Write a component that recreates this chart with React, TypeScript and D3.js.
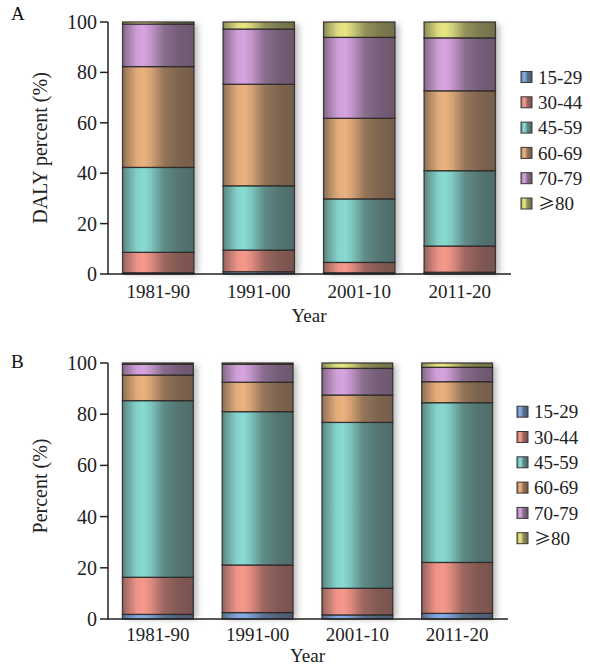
import React from "react";
import * as d3 from "d3";

const years = ["1981-90", "1991-00", "2001-10", "2011-20"];
const ageGroups = ["15-29", "30-44", "45-59", "60-69", "70-79", "≥80"];
const yTicks = [0, 20, 40, 60, 80, 100];

// Panel A: DALY percent
const a15_29 = [0.5, 0.9, 0.5, 0.7];
const a30_44 = [8.1, 8.6, 4.1, 10.4];
const a45_59 = [33.7, 25.5, 25.2, 29.9];
const a60_69 = [40.0, 40.3, 32.0, 31.7];
const a70_79 = [16.9, 21.9, 32.1, 21.0];
const a80 = [0.8, 2.8, 6.1, 6.3];

// Panel B: Percent
const b15_29 = [1.8, 2.5, 1.6, 2.2];
const b30_44 = [14.5, 18.6, 10.4, 19.9];
const b45_59 = [69.0, 59.9, 64.8, 62.4];
const b60_69 = [10.0, 11.5, 10.7, 8.2];
const b70_79 = [4.2, 7.0, 10.4, 5.6];
const b80 = [0.5, 0.5, 2.1, 1.7];

const colors = ["#84ace6", "#f7988c", "#88dbd2", "#ebb27f", "#d6a4e0", "#e6e683"];
const FONT = "'Liberation Serif', 'Times New Roman', serif";
const CJK = "'Noto Sans CJK SC', 'Noto Sans CJK JP', sans-serif";

const profile: [number, number][] = [
  [0, 0.5],
  [0.06, 0.35],
  [0.2, 0.05],
  [0.3, 0.0],
  [0.4, 0.12],
  [0.58, 0.45],
  [0.8, 0.58],
  [1, 0.62],
];

function buildRows(series: number[][]) {
  return years.map((y, i) => {
    const row: any = { year: y };
    ageGroups.forEach((g, k) => (row[g] = series[k][i]));
    return row;
  });
}

function Gradients() {
  return (
    <defs>
      {colors.map((c, k) => (
        <linearGradient key={k} id={`g${k}`} x1="0" x2="1" y1="0" y2="0">
          {profile.map(([o, t], j) => (
            <stop key={j} offset={o} stopColor={d3.interpolateRgb(c, "#2c2a2a")(t)} />
          ))}
        </linearGradient>
      ))}
      <filter id="blur" x="-50%" y="-10%" width="200%" height="120%">
        <feGaussianBlur stdDeviation="3" />
      </filter>
    </defs>
  );
}

function LegendLabel({ g }: { g: string }) {
  if (g.startsWith("≥")) {
    return (
      <>
        <tspan fontFamily={CJK} fontSize={17}>≥</tspan>
        <tspan>{g.slice(1)}</tspan>
      </>
    );
  }
  return <>{g}</>;
}

type PanelProps = {
  letter: string;
  yTitle: string;
  series: number[][];
  top: number;
  bottom: number;
  xEnd: number;
  yTitleY: number;
  legendX: number;
  legendY0: number;
  letterY: number;
  tickLabelOffset: number;
  yearOffset: number;
};

function Panel(p: PanelProps) {
  const rows = buildRows(p.series);
  const stack = d3.stack<any>().keys(ageGroups)(rows);
  const x = d3
    .scaleBand<string>()
    .domain(years)
    .range([108, p.xEnd])
    .paddingInner(0.29)
    .paddingOuter(0.145);
  const y = d3.scaleLinear().domain([0, 100]).range([p.bottom, p.top]);
  const bw = x.bandwidth();
  const axisEnd = p.xEnd + 1;
  return (
    <g>
      <text x={11} y={p.letterY} fontFamily={FONT} fontSize={19} fill="#111">
        {p.letter}
      </text>
      {years.map((yr) => (
        <rect
          key={yr}
          x={(x(yr) as number) + 4}
          y={y(100) + 2}
          width={bw}
          height={y(0) - y(100) - 2}
          fill="#8a8a8a"
          opacity={0.6}
          filter="url(#blur)"
        />
      ))}
      {stack.map((layer, k) => (
        <g key={k}>
          {layer.map((d, i) => (
            <rect
              key={i}
              x={x(years[i])}
              y={y(d[1])}
              width={bw}
              height={Math.max(0, y(d[0]) - y(d[1]))}
              fill={`url(#g${k})`}
              stroke="#2a2626"
              strokeWidth={1.3}
              strokeOpacity={0.85}
            />
          ))}
        </g>
      ))}
      <line x1={108} x2={108} y1={p.top} y2={p.bottom} stroke="#222" strokeWidth={1.5} />
      <line x1={107.25} x2={axisEnd} y1={p.bottom} y2={p.bottom} stroke="#222" strokeWidth={1.6} />
      {yTicks.map((t) => (
        <g key={t}>
          <line x1={100} x2={108} y1={y(t)} y2={y(t)} stroke="#222" strokeWidth={1.5} />
          <text
            x={97}
            y={y(t)}
            dy="0.35em"
            textAnchor="end"
            fontFamily={FONT}
            fontSize={20}
            fill="#222"
          >
            {t}
          </text>
        </g>
      ))}
      {years.map((yr) => (
        <text
          key={yr}
          x={(x(yr) as number) + bw / 2}
          y={p.bottom + p.tickLabelOffset}
          textAnchor="middle"
          fontFamily={FONT}
          fontSize={19}
          fill="#222"
        >
          {yr}
        </text>
      ))}
      <text
        x={(108 + p.xEnd) / 2}
        y={p.bottom + p.yearOffset}
        textAnchor="middle"
        fontFamily={FONT}
        fontSize={19}
        fill="#222"
      >
        Year
      </text>
      <text
        transform={`translate(47,${p.yTitleY}) rotate(-90)`}
        textAnchor="middle"
        fontFamily={FONT}
        fontSize={20}
        fill="#222"
      >
        {p.yTitle}
      </text>
      {ageGroups.map((g, k) => {
        const cy = p.legendY0 + k * 25.3;
        return (
          <g key={g}>
            <rect
              x={p.legendX}
              y={cy - 5.5}
              width={11}
              height={11}
              fill={`url(#g${k})`}
              stroke="#3a3636"
              strokeWidth={1}
            />
            <text
              x={p.legendX + 17}
              y={cy}
              dy="0.35em"
              fontFamily={FONT}
              fontSize={19}
              fill="#222"
            >
              <LegendLabel g={g} />
            </text>
          </g>
        );
      })}
    </g>
  );
}

export default function App() {
  return (
    <svg
      width={590}
      height={667}
      style={{ position: "absolute", left: 0, top: 0, background: "#fff" }}
    >
      <Gradients />
      <Panel
        letter="A"
        yTitle="DALY percent (%)"
        series={[a15_29, a30_44, a45_59, a60_69, a70_79, a80]}
        top={22}
        bottom={274}
        xEnd={510}
        yTitleY={148}
        legendX={521}
        legendY0={77}
        letterY={20}
        tickLabelOffset={24}
        yearOffset={48}
      />
      <Panel
        letter="B"
        yTitle="Percent (%)"
        series={[b15_29, b30_44, b45_59, b60_69, b70_79, b80]}
        top={363}
        bottom={619}
        xEnd={507}
        yTitleY={486}
        legendX={517}
        legendY0={411.7}
        letterY={368}
        tickLabelOffset={22}
        yearOffset={43}
      />
    </svg>
  );
}
